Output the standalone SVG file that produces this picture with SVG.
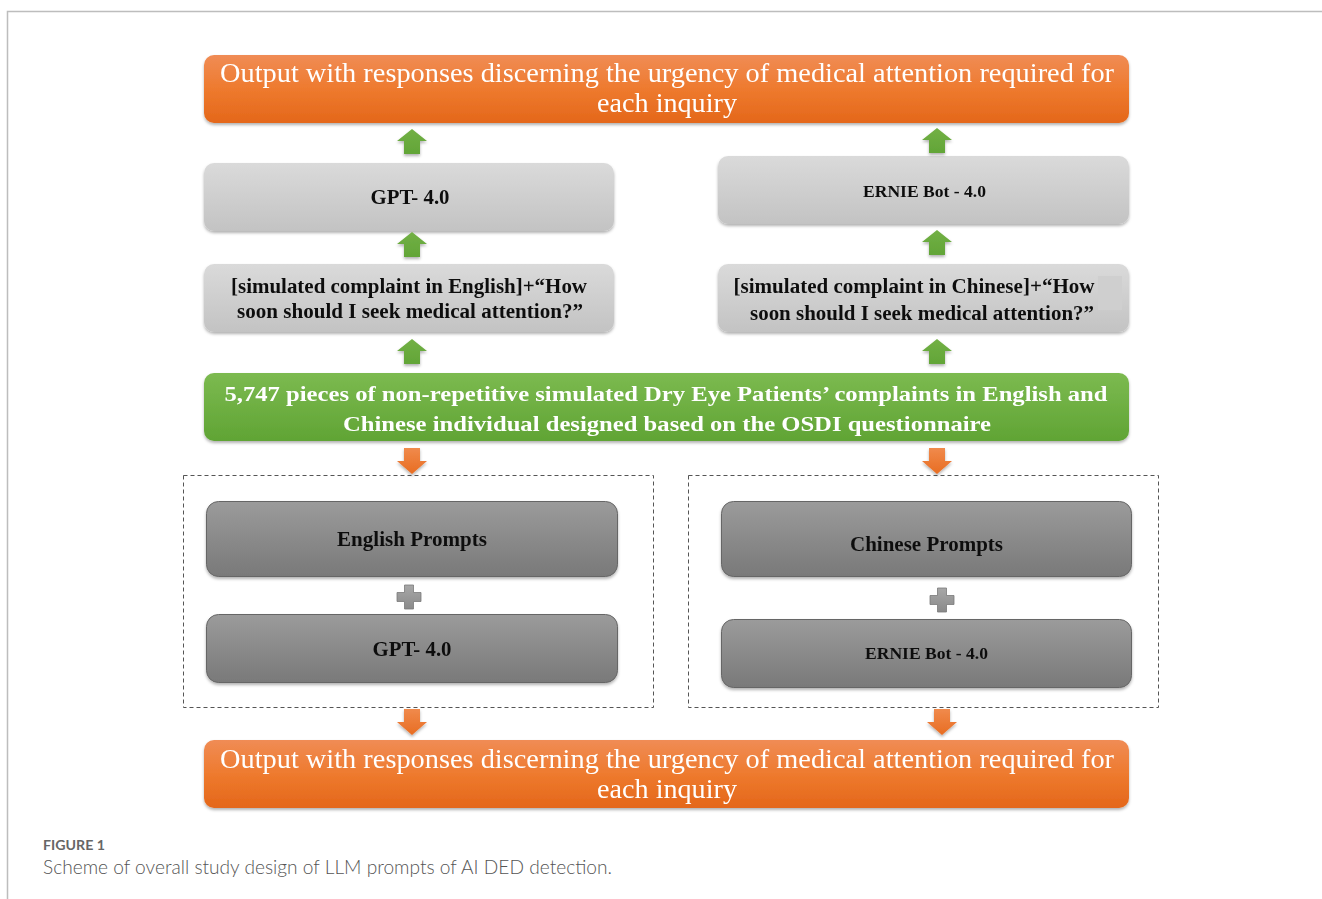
<svg xmlns="http://www.w3.org/2000/svg" width="1322" height="899" viewBox="0 0 1322 899">
<defs>
<linearGradient id="gOrange" x1="0" y1="0" x2="0" y2="1"><stop offset="0" stop-color="#f08c55"/><stop offset="0.5" stop-color="#ee7a2e"/><stop offset="1" stop-color="#e4671a"/></linearGradient>
<linearGradient id="gGreen" x1="0" y1="0" x2="0" y2="1"><stop offset="0" stop-color="#7cba50"/><stop offset="1" stop-color="#60a434"/></linearGradient>
<linearGradient id="gLight" x1="0" y1="0" x2="0" y2="1"><stop offset="0" stop-color="#dadada"/><stop offset="1" stop-color="#c3c3c3"/></linearGradient>
<linearGradient id="gDark" x1="0" y1="0" x2="0" y2="1"><stop offset="0" stop-color="#9b9b9b"/><stop offset="1" stop-color="#797979"/></linearGradient>
<linearGradient id="gArrG" x1="0" y1="0" x2="0" y2="1"><stop offset="0" stop-color="#72b045"/><stop offset="1" stop-color="#62a537"/></linearGradient>
<linearGradient id="gArrO" x1="0" y1="0" x2="0" y2="1"><stop offset="0" stop-color="#f08a4c"/><stop offset="1" stop-color="#e86d22"/></linearGradient>
<linearGradient id="gPlus" x1="0" y1="0" x2="0" y2="1"><stop offset="0" stop-color="#a8a8a8"/><stop offset="1" stop-color="#8a8a8a"/></linearGradient>
<filter id="sh" x="-5%" y="-20%" width="110%" height="150%"><feDropShadow dx="0" dy="2" stdDeviation="1.5" flood-color="#000" flood-opacity="0.3"/></filter>
<path id="up" d="M0,0 L15,12 L8,12 L8,25 L-8,25 L-8,12 L-15,12 Z" fill="url(#gArrG)"/>
<path id="down" d="M-8,0 L8,0 L8,13 L15,13 L0,26 L-15,13 L-8,13 Z" fill="url(#gArrO)"/>
<path id="plus" d="M-4.5,-12 L4.5,-12 L4.5,-4.5 L12,-4.5 L12,4.5 L4.5,4.5 L4.5,12 L-4.5,12 L-4.5,4.5 L-12,4.5 L-12,-4.5 L-4.5,-4.5 Z" fill="url(#gPlus)" stroke="#7a7a7a" stroke-width="0.8"/>
</defs>
<style>
.out{font-family:"Liberation Serif","Times New Roman",serif;font-size:27px;fill:#fff;text-anchor:middle}
.grn{font-family:"Liberation Serif","Times New Roman",serif;font-weight:bold;font-size:22px;fill:#fff;text-anchor:middle}
.lbl{font-family:"Liberation Serif","Times New Roman",serif;font-weight:bold;font-size:20px;fill:#111;text-anchor:middle}
.sm{font-size:17.5px}
.dash{fill:none;stroke:#555;stroke-width:1;stroke-dasharray:4,3}
</style>
<rect width="1322" height="899" fill="#fff"/>
<path d="M7.5,899 L7.5,11.5 L1322,11.5" fill="none" stroke="#bdbdbd" stroke-width="1.5"/>

<g id="outTop" filter="url(#sh)">
<rect x="204" y="55" width="925" height="68" rx="10" fill="url(#gOrange)"/>
<text class="out" x="667" y="82" textLength="894" lengthAdjust="spacingAndGlyphs">Output with responses discerning the urgency of medical attention required for</text>
<text class="out" x="667" y="112" textLength="140" lengthAdjust="spacingAndGlyphs">each inquiry</text>
</g>
<g id="gptTop" filter="url(#sh)">
<rect x="204" y="163" width="410" height="68" rx="10" fill="url(#gLight)"/>
<text class="lbl" x="410" y="204" textLength="79" lengthAdjust="spacingAndGlyphs">GPT- 4.0</text>
</g>
<g id="ernieTop" filter="url(#sh)">
<rect x="718" y="156" width="411" height="68" rx="10" fill="url(#gLight)"/>
<text class="lbl sm" x="924.5" y="197" textLength="123" lengthAdjust="spacingAndGlyphs">ERNIE Bot - 4.0</text>
</g>
<g id="promptEn" filter="url(#sh)">
<rect x="204" y="264" width="410" height="68" rx="10" fill="url(#gLight)"/>
<text class="lbl" x="409" y="293" textLength="356" lengthAdjust="spacingAndGlyphs">[simulated complaint in English]+“How</text>
<text class="lbl" x="410" y="318" textLength="346" lengthAdjust="spacingAndGlyphs">soon should I seek medical attention?”</text>
</g>
<g id="promptZh" filter="url(#sh)">
<rect x="718" y="264" width="411" height="68" rx="10" fill="url(#gLight)"/>
<rect x="1098" y="276" width="24" height="34" fill="#cfcfcf"/>
<text class="lbl" x="914" y="293" textLength="361" lengthAdjust="spacingAndGlyphs">[simulated complaint in Chinese]+“How</text>
<text class="lbl" x="922" y="320" textLength="344" lengthAdjust="spacingAndGlyphs">soon should I seek medical attention?”</text>
</g>
<g id="source" filter="url(#sh)">
<rect x="204" y="373" width="925" height="68" rx="10" fill="url(#gGreen)"/>
<text class="grn" x="666" y="401" textLength="883" lengthAdjust="spacingAndGlyphs">5,747 pieces of non-repetitive simulated Dry Eye Patients’ complaints in English and</text>
<text class="grn" x="667" y="431" textLength="648" lengthAdjust="spacingAndGlyphs">Chinese individual designed based on the OSDI questionnaire</text>
</g>
<g id="groupEn">
<rect class="dash" x="183.5" y="475.5" width="470" height="232"/>
<g id="enPrompts" filter="url(#sh)">
<rect x="206.5" y="501.5" width="411" height="75" rx="12" fill="url(#gDark)" stroke="#666"/>
<text class="lbl" x="412" y="546" textLength="150" lengthAdjust="spacingAndGlyphs">English Prompts</text>
</g>
<use href="#plus" x="409" y="597"/>
<g id="enModel" filter="url(#sh)">
<rect x="206.5" y="614.5" width="411" height="68" rx="12" fill="url(#gDark)" stroke="#666"/>
<text class="lbl" x="412" y="656" textLength="79" lengthAdjust="spacingAndGlyphs">GPT- 4.0</text>
</g>
</g>
<g id="groupZh">
<rect class="dash" x="688.5" y="475.5" width="470" height="232"/>
<g id="zhPrompts" filter="url(#sh)">
<rect x="721.5" y="501.5" width="410" height="75" rx="12" fill="url(#gDark)" stroke="#666"/>
<text class="lbl" x="926.5" y="551" textLength="153" lengthAdjust="spacingAndGlyphs">Chinese Prompts</text>
</g>
<use href="#plus" x="942" y="600"/>
<g id="zhModel" filter="url(#sh)">
<rect x="721.5" y="619.5" width="410" height="68" rx="12" fill="url(#gDark)" stroke="#666"/>
<text class="lbl sm" x="926.5" y="659" textLength="123" lengthAdjust="spacingAndGlyphs">ERNIE Bot - 4.0</text>
</g>
</g>
<g id="outBottom" filter="url(#sh)">
<rect x="204" y="740" width="925" height="68" rx="10" fill="url(#gOrange)"/>
<text class="out" x="667" y="768" textLength="894" lengthAdjust="spacingAndGlyphs">Output with responses discerning the urgency of medical attention required for</text>
<text class="out" x="667" y="798" textLength="140" lengthAdjust="spacingAndGlyphs">each inquiry</text>
</g>
<g id="connectors" filter="url(#sh)">
<use href="#up" x="412" y="129"/>
<use href="#up" x="937" y="128"/>
<use href="#up" x="412" y="232"/>
<use href="#up" x="937" y="230"/>
<use href="#up" x="412" y="339"/>
<use href="#up" x="937" y="339"/>
<use href="#down" x="412" y="448"/>
<use href="#down" x="937" y="448"/>
<use href="#down" x="412" y="709"/>
<use href="#down" x="942" y="709"/>
</g>
<g id="caption">
<text x="43" y="850" font-family="Lato,'Open Sans',sans-serif" font-size="13" font-weight="bold" fill="#666" textLength="62" lengthAdjust="spacingAndGlyphs">FIGURE 1</text>
<text x="43" y="874" font-family="Lato,'Open Sans',sans-serif" font-size="19" font-weight="300" fill="#555" textLength="569" lengthAdjust="spacingAndGlyphs">Scheme of overall study design of LLM prompts of AI DED detection.</text>
</g>
</svg>
